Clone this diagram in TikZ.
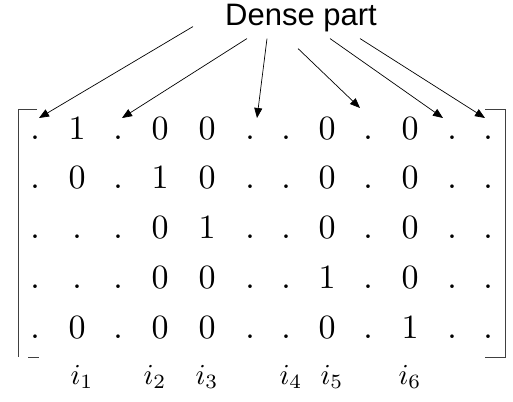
\documentclass[tikz,border=0pt]{standalone}
\usepackage{fontspec}
\newfontfamily\labelfont{Liberation Sans}
\usetikzlibrary{
    arrows.meta,
    calc,
    positioning
}
\tikzset{
    entry/.style={anchor=base, inner sep=0pt, scale=3.4},
    colname/.style={anchor=base, inner sep=0pt, scale=2.9},
    pointer/.style={-{Triangle[length=10pt, width=8pt]}, line width=0.7pt},
    bracket/.style={line width=0.9pt, draw=black!75}
}

\begin{document}
\begin{tikzpicture}[x=1pt, y=-1pt]
                        \useasboundingbox (0, 0) rectangle (513, 401);
                        \node[font=\labelfont\fontsize{31}{36}\selectfont, inner sep=0pt, anchor=base] (dense) at (301, 26) {Dense part};
                        \foreach \row [count=\r] in {
                            {.,1,.,0,0,.,.,0,.,0,.,.},
                            {.,0,.,1,0,.,.,0,.,0,.,.},
                            {.,.,.,0,1,.,.,0,.,0,.,.},
                            {.,.,.,0,0,.,.,1,.,0,.,.},
                            {.,0,.,0,0,.,.,0,.,1,.,.}} {
                            \foreach \val [count=\c] in \row {
                                \pgfmathsetmacro\cx{{35,77,118,160,207,250,286,327,368,410,452,488}[\c-1]}
                                \pgfmathsetmacro\cy{139+49.75*(\r-1)}
                                \node[entry] (m-\r-\c) at (\cx, \cy) {$\val$};
                            }
                        }
                        \foreach \k/\cx in {1/82, 2/155, 3/207, 4/291, 5/332, 6/410}
                            \node[colname] (i\k) at (\cx, 384) {$i_{\k}$};
                        \draw[bracket] (37, 109) -- (18, 109) -- (18, 357);
                        \draw[bracket] (28, 357) -- (39, 357);
                        \draw[bracket] (485, 109) -- (505, 109) -- (505, 357) -- (485, 357);
                        \foreach \from/\cell/\off in {{-108,8}/1/{4,-21}, {-54,20}/3/{4,-21}, {-34,20}/6/{7,-21},
                                                      {-3,30}/9/{-8,-31}, {29,20}/11/{-9,-21}, {59,20}/12/{-3,-21}}
                            \draw[pointer] ($(dense)+(\from)$) -- ($(m-1-\cell.base)+(\off)$);
\end{tikzpicture}
\end{document}
